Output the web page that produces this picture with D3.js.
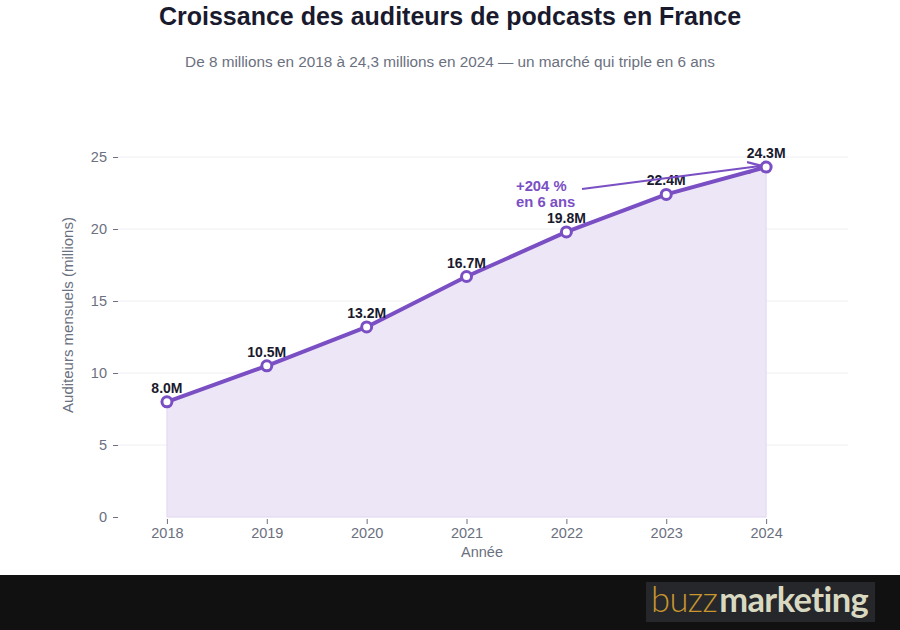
<!DOCTYPE html>
<html>
<head>
<meta charset="utf-8">
<script src="https://cdn.jsdelivr.net/npm/d3@7"></script>
<style>
  body { margin: 0; background: #fff; }
  svg { display: block; font-family: "Liberation Sans", Arial, sans-serif; }
</style>
</head>
<body>
<div id="chart"></div>
<script>
const years = [2018, 2019, 2020, 2021, 2022, 2023, 2024];
const listeners = [8.0, 10.5, 13.2, 16.7, 19.8, 22.4, 24.3];
const yTicks = [0, 5, 10, 15, 20, 25];

const width = 900, height = 630;
const svg = d3.select("#chart").append("svg").attr("width", width).attr("height", height);

const x = d3.scaleLinear().domain([2017.51, 2024.82]).range([118, 848]);
const y = d3.scaleLinear().domain([0, 25]).range([517, 157]);

const data = years.map((yr, i) => ({ year: yr, value: listeners[i] }));
const purple = "#7b4fc4";

// title + subtitle
svg.append("text").attr("x", 450).attr("y", 25).attr("text-anchor", "middle")
  .attr("font-size", 25).attr("font-weight", "bold").attr("fill", "#1a1a2e")
  .text("Croissance des auditeurs de podcasts en France");
svg.append("text").attr("x", 450).attr("y", 67).attr("text-anchor", "middle")
  .attr("font-size", 15.3).attr("fill", "#6b7080")
  .text("De 8 millions en 2018 à 24,3 millions en 2024 — un marché qui triple en 6 ans");

// grid
svg.append("g").selectAll("line").data(yTicks.slice(1)).enter().append("line")
  .attr("x1", 118).attr("x2", 848)
  .attr("y1", d => y(d)).attr("y2", d => y(d))
  .attr("stroke", "#f0eff5").attr("stroke-width", 1);

// area
const area = d3.area().x(d => x(d.year)).y0(y(0)).y1(d => y(d.value));
svg.append("path").datum(data).attr("d", area)
  .attr("fill", "#ede6f6").attr("stroke", "#e0d6f0").attr("stroke-width", 1);

// axes
const yAxis = svg.append("g").attr("transform", "translate(118,0)")
  .call(d3.axisLeft(y).tickValues(yTicks).tickSize(5).tickPadding(6));
yAxis.select(".domain").remove();
yAxis.selectAll("line").attr("stroke", "#6b7080");
yAxis.selectAll("text").attr("font-size", 14.5).attr("fill", "#6b7080")
  .attr("font-family", "Liberation Sans, Arial, sans-serif");

const xAxis = svg.append("g").attr("transform", "translate(0,519)")
  .call(d3.axisBottom(x).tickValues(years).tickFormat(d3.format("d")).tickSize(5).tickPadding(4));
xAxis.select(".domain").remove();
xAxis.selectAll("line").attr("stroke", "#6b7080");
xAxis.selectAll("text").attr("font-size", 14.5).attr("fill", "#6b7080")
  .attr("font-family", "Liberation Sans, Arial, sans-serif");

// axis titles
svg.append("text").attr("x", 482).attr("y", 557).attr("text-anchor", "middle")
  .attr("font-size", 14.5).attr("fill", "#6b7080").text("Année");
svg.append("text").attr("transform", "translate(73,315) rotate(-90)").attr("text-anchor", "middle")
  .attr("font-size", 15).attr("fill", "#6b7080").text("Auditeurs mensuels (millions)");

// line
const line = d3.line().x(d => x(d.year)).y(d => y(d.value));
svg.append("path").datum(data).attr("d", line)
  .attr("fill", "none").attr("stroke", purple).attr("stroke-width", 4)
  .attr("stroke-linejoin", "round");

// markers
svg.append("g").selectAll("circle").data(data).enter().append("circle")
  .attr("cx", d => x(d.year)).attr("cy", d => y(d.value)).attr("r", 5)
  .attr("fill", "#fff").attr("stroke", purple).attr("stroke-width", 3);

// value labels
svg.append("g").selectAll("text").data(data).enter().append("text")
  .attr("x", d => x(d.year)).attr("y", d => y(d.value) - 9)
  .attr("text-anchor", "middle").attr("font-size", 14).attr("font-weight", "bold")
  .attr("font-family", "Liberation Sans Narrow, Arial Narrow, sans-serif")
  .attr("fill", "#1a1a2e").text(d => d.value.toFixed(1) + "M");

// annotation
const last = data[data.length - 1];
svg.append("defs").append("marker").attr("id", "arrow")
  .attr("viewBox", "0 0 10 10").attr("refX", 9).attr("refY", 5)
  .attr("markerWidth", 7).attr("markerHeight", 7).attr("orient", "auto")
  .append("path").attr("d", "M0,1 L10,5 L0,9").attr("fill", "none")
  .attr("stroke", purple).attr("stroke-width", 1.6);
svg.append("line").attr("x1", 582).attr("y1", 189)
  .attr("x2", x(last.year) - 6).attr("y2", y(last.value) - 1)
  .attr("stroke", purple).attr("stroke-width", 2).attr("marker-end", "url(#arrow)");
const ann = svg.append("text").attr("font-size", 14.8).attr("font-weight", "bold").attr("fill", purple);
ann.append("tspan").attr("x", 516).attr("y", 191).text("+204 %");
ann.append("tspan").attr("x", 516).attr("y", 207).text("en 6 ans");

// footer
svg.append("rect").attr("x", 0).attr("y", 575).attr("width", 900).attr("height", 55).attr("fill", "#111111");
svg.append("rect").attr("x", 646).attr("y", 582).attr("width", 229).attr("height", 40).attr("fill", "#25272b");
const logo = svg.append("text").attr("x", 651).attr("y", 612).attr("font-size", 34.5)
  .attr("font-family", "Lato, 'Noto Sans', sans-serif").attr("letter-spacing", -0.6);
logo.append("tspan").attr("fill", "#c8952e").attr("font-weight", "300").text("buzz");
logo.append("tspan").attr("fill", "#d9d9c2").attr("font-weight", "bold").attr("dx", 2).text("marketing");
</script>
</body>
</html>
